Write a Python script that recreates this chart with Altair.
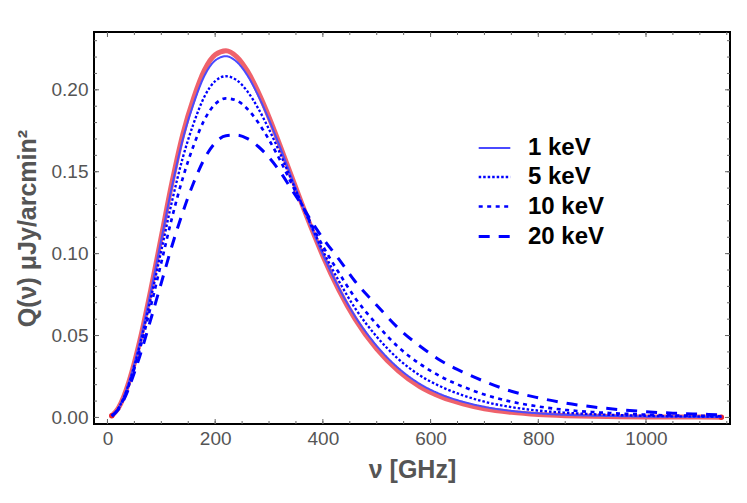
import altair as alt
import pandas as pd

# ---------------- data ----------------
freq = [8, 20, 30, 40, 50, 60, 80, 100, 120, 140,
        160, 180, 200, 220, 240, 260, 280, 300, 320, 340,
        360, 380, 400, 430, 460, 500, 540, 580, 620, 660,
        700, 750, 800, 850, 900, 950, 1000, 1050, 1100, 1140]

q_nonrel = [0.0010, 0.0056, 0.0125, 0.0219, 0.0334, 0.0467, 0.0772, 0.1104, 0.1438, 0.1730,
            0.1950, 0.2120, 0.2214, 0.2239, 0.2202, 0.2114, 0.1986, 0.1833, 0.1664, 0.1488,
            0.1313, 0.1145, 0.0986, 0.0776, 0.0600, 0.0418, 0.0284, 0.0188, 0.0125, 0.0083,
            0.0053, 0.0031, 0.0018, 0.0011, 0.0007, 0.0005, 0.0003, 0.0002, 0.0002, 0.0001]

q_1kev = [0.0010, 0.0055, 0.0124, 0.0217, 0.0330, 0.0461, 0.0760, 0.1086, 0.1413, 0.1699,
          0.1916, 0.2085, 0.2179, 0.2205, 0.2171, 0.2087, 0.1964, 0.1817, 0.1654, 0.1482,
          0.1312, 0.1148, 0.0994, 0.0789, 0.0616, 0.0437, 0.0302, 0.0205, 0.0140, 0.0096,
          0.0065, 0.0040, 0.0025, 0.0016, 0.0011, 0.0008, 0.0005, 0.0004, 0.0003, 0.0002]

q_5kev = [0.0010, 0.0054, 0.0119, 0.0208, 0.0316, 0.0439, 0.0719, 0.1019, 0.1322, 0.1587,
          0.1795, 0.1958, 0.2053, 0.2083, 0.2059, 0.1990, 0.1886, 0.1759, 0.1616, 0.1462,
          0.1309, 0.1159, 0.1018, 0.0831, 0.0666, 0.0493, 0.0357, 0.0257, 0.0187, 0.0135,
          0.0096, 0.0063, 0.0042, 0.0029, 0.0020, 0.0014, 0.0010, 0.0007, 0.0006, 0.0004]

q_10kev = [0.0009, 0.0052, 0.0114, 0.0198, 0.0300, 0.0415, 0.0672, 0.0946, 0.1221, 0.1463,
           0.1660, 0.1817, 0.1913, 0.1948, 0.1934, 0.1883, 0.1800, 0.1695, 0.1574, 0.1440,
           0.1306, 0.1171, 0.1046, 0.0882, 0.0729, 0.0568, 0.0430, 0.0327, 0.0248, 0.0188,
           0.0140, 0.0096, 0.0067, 0.0046, 0.0033, 0.0024, 0.0017, 0.0012, 0.0010, 0.0007]

q_20kev = [0.0009, 0.0048, 0.0105, 0.0182, 0.0274, 0.0374, 0.0594, 0.0822, 0.1050, 0.1254,
           0.1433, 0.1579, 0.1676, 0.1720, 0.1724, 0.1702, 0.1654, 0.1587, 0.1503, 0.1402,
           0.1300, 0.1191, 0.1094, 0.0965, 0.0830, 0.0685, 0.0545, 0.0436, 0.0345, 0.0277,
           0.0220, 0.0160, 0.0120, 0.0088, 0.0065, 0.0048, 0.0035, 0.0026, 0.0020, 0.0016]

series_names = ["1 keV", "5 keV", "10 keV", "20 keV"]
series_values = [q_1kev, q_5kev, q_10kev, q_20kev]

x_tick_labels = [0, 200, 400, 600, 800, 1000]
y_tick_labels = [0.00, 0.05, 0.10, 0.15, 0.20]
x_minor_ticks = [0, 50, 100, 150, 200, 250, 300, 350, 400, 450, 500, 550,
                 600, 650, 700, 750, 800, 850, 900, 950, 1000, 1050, 1100, 1150]
y_minor_ticks = [0.00, 0.01, 0.02, 0.03, 0.04, 0.05, 0.06, 0.07, 0.08, 0.09, 0.10, 0.11,
                 0.12, 0.13, 0.14, 0.15, 0.16, 0.17, 0.18, 0.19, 0.20, 0.21, 0.22, 0.23]

# ---------------- tables ----------------
df_ref = pd.DataFrame({"nu": freq, "Q": q_nonrel})
df_ends = pd.DataFrame({"nu": [freq[0], freq[-1]], "Q": [q_nonrel[0], q_nonrel[-1]]})
rows = []
for name, vals in zip(series_names, series_values):
    for f, v in zip(freq, vals):
        rows.append({"nu": f, "Q": v, "T": name})
df_rel = pd.DataFrame(rows)

df_xmaj = pd.DataFrame({"nu": x_tick_labels})
df_xmin = pd.DataFrame({"nu": x_minor_ticks})
df_ymaj = pd.DataFrame({"Q": y_tick_labels})
df_ymin = pd.DataFrame({"Q": y_minor_ticks})

W, H = 636, 392
FONT = "Liberation Sans"
GRAY = "#555555"

xscale = alt.Scale(domain=[-25, 1156], nice=False, zero=False)
yscale = alt.Scale(domain=[-0.004, 0.2353], nice=False, zero=False)

xaxis = alt.Axis(values=x_tick_labels, format="d", title="ν [GHz]", grid=False,
                 ticks=False, tickSize=0, domain=False, labelFontSize=19,
                 labelColor=GRAY, labelPadding=5, labelFont=FONT,
                 titleFont=FONT, titleFontSize=25, titleFontWeight="bold",
                 titleColor=GRAY, titlePadding=9)
yaxis = alt.Axis(values=y_tick_labels, format=".2f", title="Q(ν) μJy/arcmin²",
                 grid=False, ticks=False, tickSize=0, domain=False,
                 labelFontSize=19, labelColor=GRAY, labelPadding=6, labelFont=FONT,
                 titleFont=FONT, titleFontSize=25, titleFontWeight="bold",
                 titleColor=GRAY, titlePadding=11)

base_x = alt.X("nu:Q", scale=xscale, axis=xaxis)
base_y = alt.Y("Q:Q", scale=yscale, axis=yaxis)

ref_line = alt.Chart(df_ref).mark_line(
    color="#e8202c", strokeWidth=5, opacity=0.7, interpolate="monotone"
).encode(x=base_x, y=base_y)

ref_ends = alt.Chart(df_ends).mark_circle(color="#e8202c", size=30, opacity=1).encode(
    x=alt.X("nu:Q", scale=xscale), y=alt.Y("Q:Q", scale=yscale))

legend_kw = dict(orient="none", legendX=383, legendY=99, title=None)

rel_lines = alt.Chart(df_rel).mark_line(interpolate="monotone").encode(
    x=alt.X("nu:Q", scale=xscale),
    y=alt.Y("Q:Q", scale=yscale),
    color=alt.Color("T:N", scale=alt.Scale(domain=series_names,
                    range=["#4a4aff", "#0000ff", "#0000ff", "#0000ff"]),
                    legend=alt.Legend(**legend_kw)),
    strokeDash=alt.StrokeDash("T:N", scale=alt.Scale(domain=series_names,
                    range=[[1, 0], [2.5, 2], [4, 4.5], [11, 9]]),
                    legend=alt.Legend(**legend_kw)),
    strokeWidth=alt.StrokeWidth("T:N", scale=alt.Scale(domain=series_names,
                    range=[2, 3, 4.5, 4.5]),
                    legend=alt.Legend(**legend_kw)),
)

tick_col = "#666666"
def hticks(df, x0, x1):
    return alt.Chart(df).mark_rule(color=tick_col, strokeWidth=1).encode(
        y=alt.Y("Q:Q", scale=yscale), x=alt.value(x0), x2=alt.value(x1))

def vticks(df, y0, y1):
    return alt.Chart(df).mark_rule(color=tick_col, strokeWidth=1).encode(
        x=alt.X("nu:Q", scale=xscale), y=alt.value(y0), y2=alt.value(y1))

ticks = [
    hticks(df_ymin, 0, 3), hticks(df_ymaj, 0, 5),
    hticks(df_ymin, W - 3, W), hticks(df_ymaj, W - 5, W),
    vticks(df_xmin, H, H - 3), vticks(df_xmaj, H, H - 5),
    vticks(df_xmin, 0, 3), vticks(df_xmaj, 0, 5),
]

chart = alt.layer(ref_line, ref_ends, rel_lines, *ticks).properties(
    width=W, height=H,
    padding={"left": 86, "top": 24, "right": 9, "bottom": 70},
    autosize="none",
).configure(
    font=FONT
).configure_view(
    stroke="black", strokeWidth=2
).configure_legend(
    symbolType="stroke", symbolSize=1000, labelFontSize=24,
    labelFontWeight="bold", labelColor="black", labelFont=FONT,
    padding=0, rowPadding=0, labelOffset=16,
)

chart.save("out.html", embed_options={"renderer": "svg", "actions": False})
